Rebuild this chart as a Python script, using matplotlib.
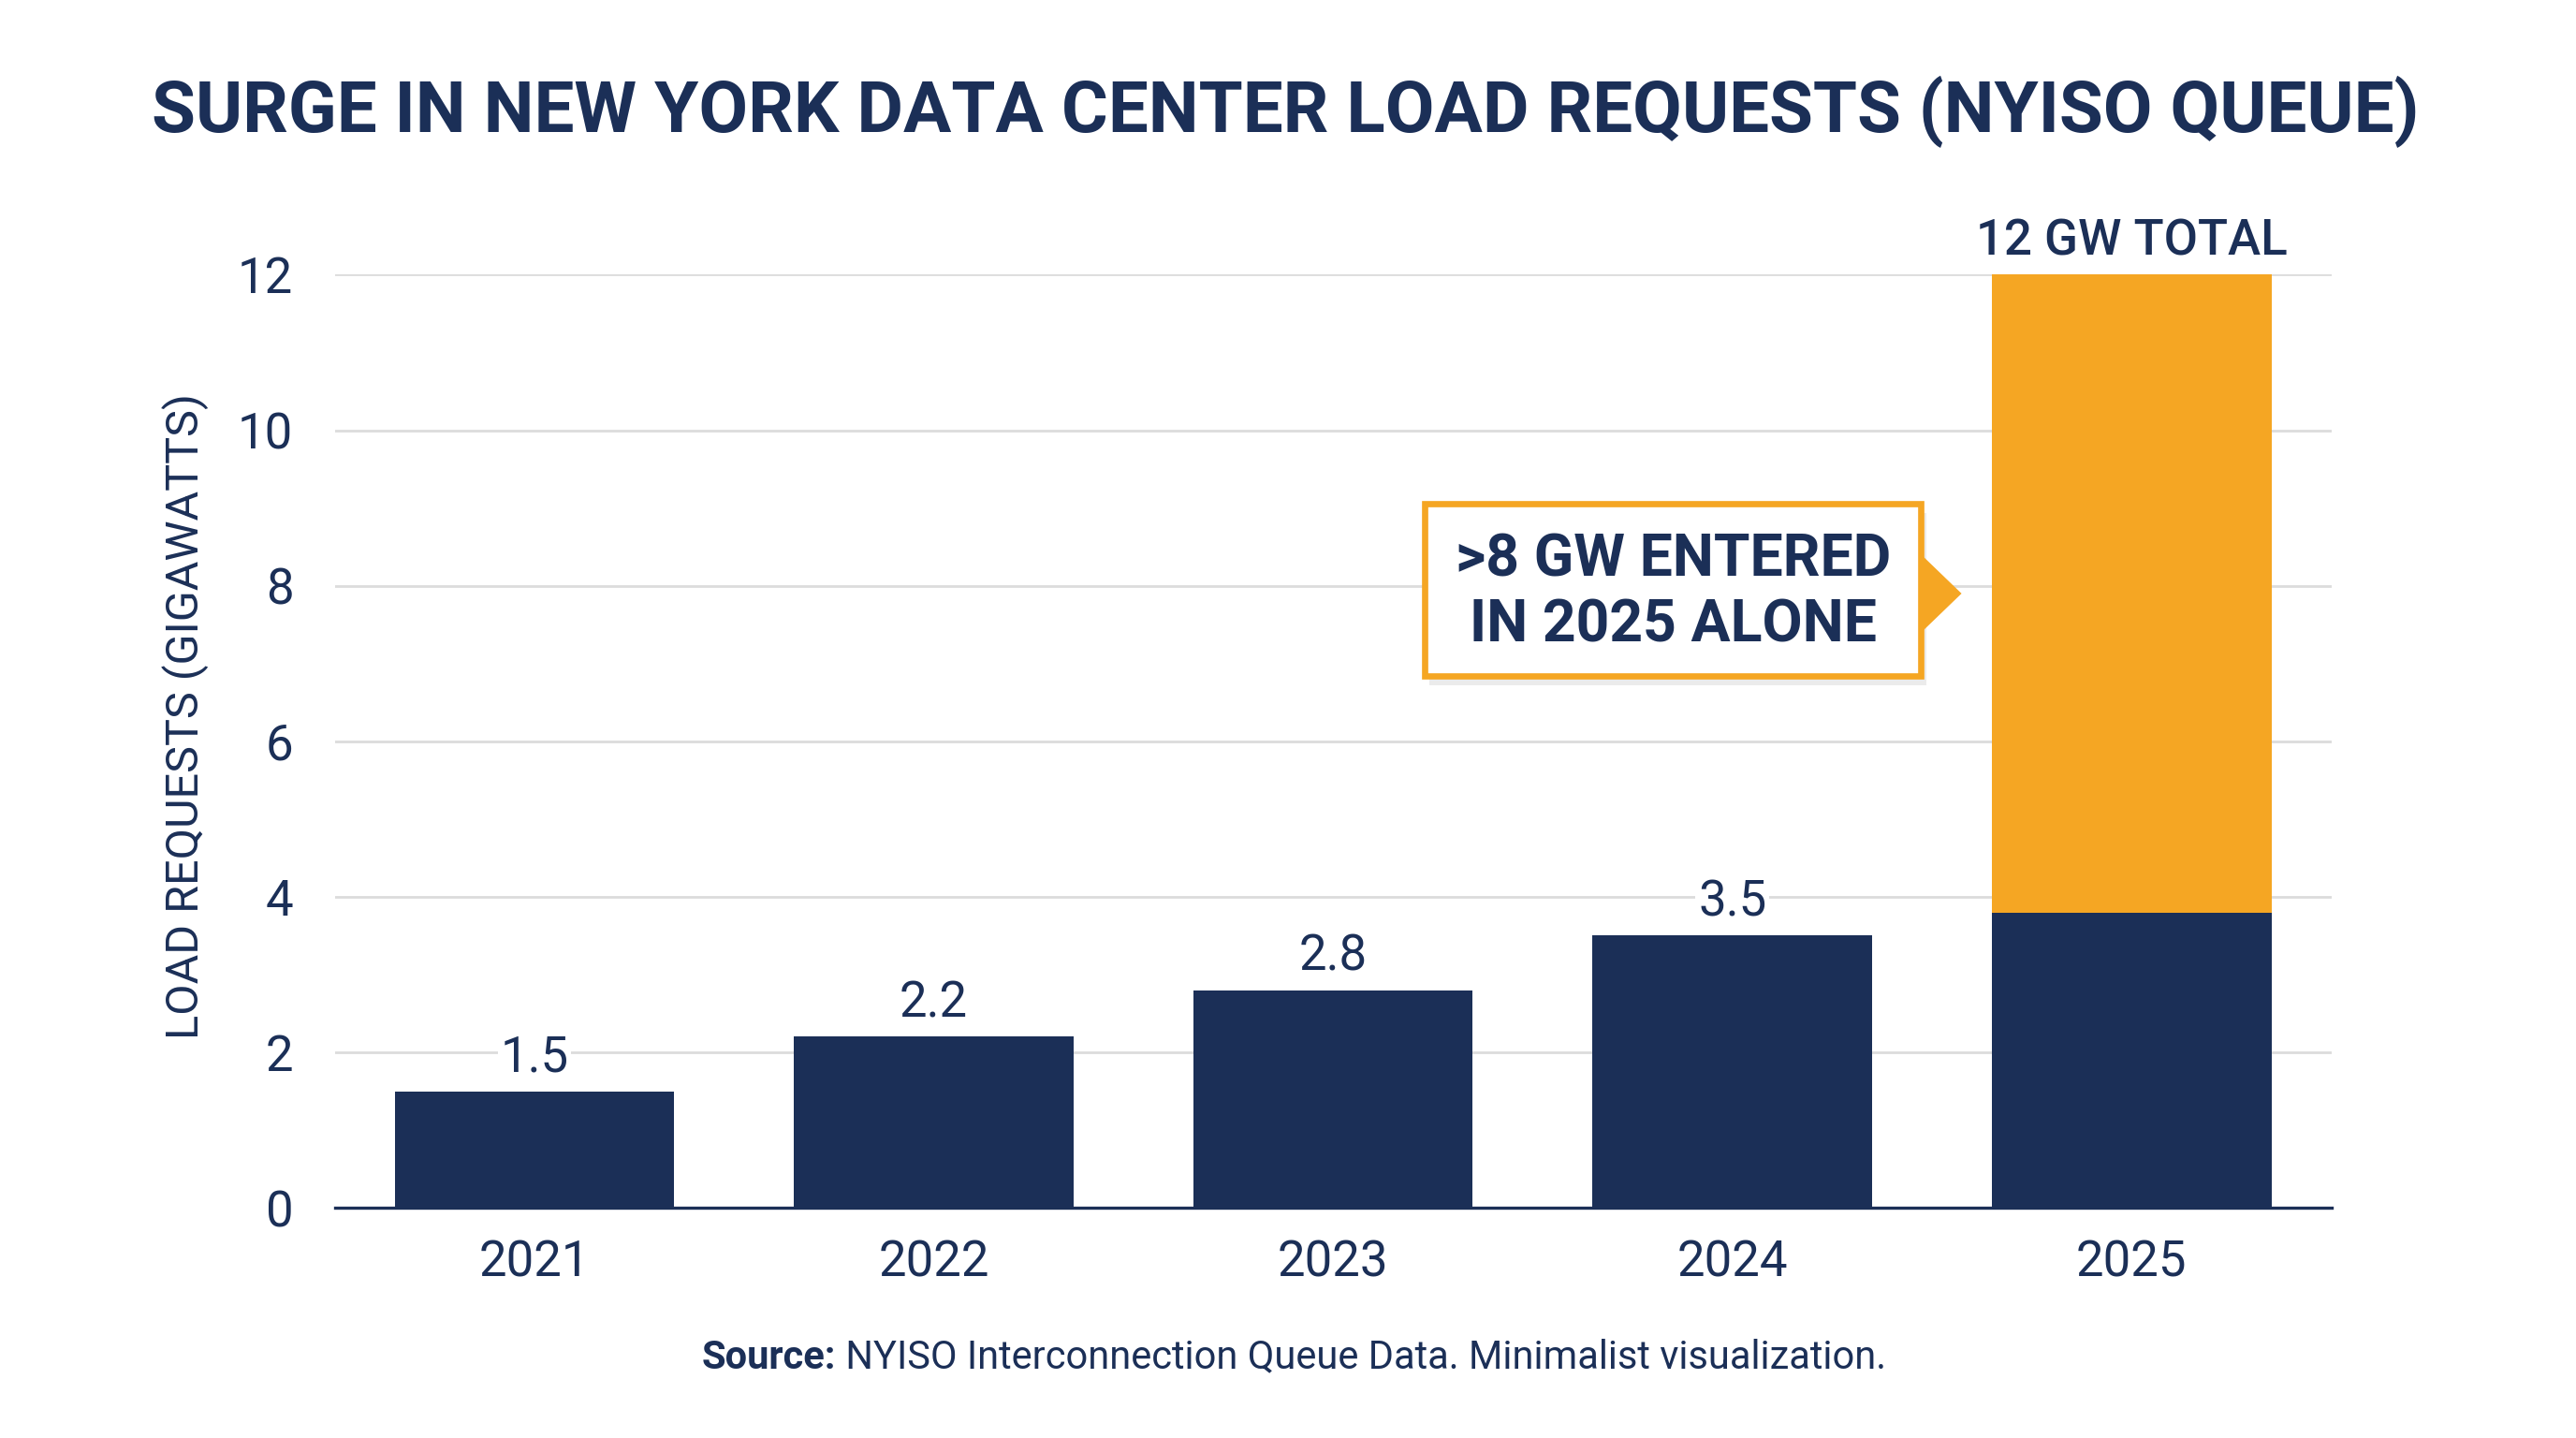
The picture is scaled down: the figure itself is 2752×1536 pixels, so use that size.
import matplotlib.pyplot as plt
from matplotlib.patches import Rectangle, Polygon

plt.rcParams['font.family'] = ['Roboto', 'DejaVu Sans']

navy = '#1b2f57'
orange = '#f5a623'
grid_col = '#dcdcdc'

# data
years = ['2021', '2022', '2023', '2024', '2025']
load_gw = [1.5, 2.2, 2.8, 3.5, 3.8]      # navy part
new_2025 = [0, 0, 0, 0, 8.2]             # orange part (entered in 2025)
total_label = '12 GW TOTAL'
callout = '>8 GW ENTERED\nIN 2025 ALONE'

fig = plt.figure(figsize=(13.76, 7.68), dpi=200)
ax = fig.add_axes([0.130, 0.160, 0.775, 0.649])

x = list(range(len(years)))
bw = 0.70
ax.bar(x, load_gw, width=bw, color=navy, zorder=3)
ax.bar(x, new_2025, width=bw, bottom=load_gw, color=orange, zorder=3)

# value labels on first four bars
for i in range(4):
    ax.text(x[i], load_gw[i] + 0.12, f'{load_gw[i]:.1f}', ha='center', va='bottom',
            fontsize=19, color=navy, zorder=4,
            bbox=dict(facecolor='white', edgecolor='none', pad=1))

total = load_gw[4] + new_2025[4]
ax.text(x[4], total + 0.12, total_label, ha='center', va='bottom',
        fontsize=19, fontweight='medium', color=navy, clip_on=False)

# callout box with pointer
bx0, bx1, by0, by1 = 2.229, 3.473, 6.84, 9.05
tip_y = (load_gw[4] + total) / 2
tip_x = x[4] - bw / 2 - 0.076
shadow = Rectangle((bx0 + 0.012, by0 - 0.12), bx1 - bx0, by1 - by0,
                   facecolor='black', alpha=0.08, edgecolor='none', zorder=4)
ax.add_patch(shadow)
ax.add_patch(Polygon([(bx1, tip_y - 0.5), (tip_x, tip_y), (bx1, tip_y + 0.5)],
                     closed=True, facecolor=orange, edgecolor='none', zorder=5))
ax.add_patch(Rectangle((bx0, by0), bx1 - bx0, by1 - by0, facecolor='white',
                       edgecolor=orange, linewidth=2.4, zorder=6))
ax.text((bx0 + bx1) / 2, (by0 + by1) / 2 - 0.04, callout, ha='center', va='center',
        fontsize=22.5, fontweight='bold', color=navy, linespacing=1.22, zorder=7)

ax.set_xlim(-0.5, 4.5)
ax.set_ylim(0, 12)
ax.set_yticks(range(0, 13, 2))
ax.set_xticks(x)
ax.set_xticklabels(years)
ax.tick_params(axis='both', length=0, labelsize=19, labelcolor=navy)
ax.tick_params(axis='y', pad=16)
ax.tick_params(axis='x', pad=12)
ax.grid(axis='y', color=grid_col, linewidth=1.0, zorder=0)
for s in ['top', 'right', 'left']:
    ax.spines[s].set_visible(False)
ax.spines['bottom'].set_color(navy)
ax.spines['bottom'].set_linewidth(1.2)
ax.spines['bottom'].set_zorder(4)

fig.text(0.072, 0.502, 'LOAD REQUESTS (GIGAWATTS)', rotation=90, ha='center', va='center',
         fontsize=17.5, color=navy)

r = fig.canvas.get_renderer()
W = fig.bbox.width

# title, sized to the reference width (~2418 px)
title = fig.text(1373 / W, 1 - 119 / 1536,
                 'SURGE IN NEW YORK DATA CENTER LOAD REQUESTS (NYISO QUEUE)',
                 ha='center', va='center', fontsize=28, fontweight='bold', color=navy)
tw = title.get_window_extent(r).width
title.set_fontsize(28 * 2418 / tw)

# source line: bold prefix + regular text
src_y = 1 - 1450 / 1536
t1 = fig.text(0.5, src_y, 'Source:', ha='left', va='center', fontsize=15,
              fontweight='bold', color=navy)
t2 = fig.text(0.5, src_y, ' NYISO Interconnection Queue Data. Minimalist visualization.',
              ha='left', va='center', fontsize=15, color=navy)
w1 = t1.get_window_extent(r).width
w2 = t2.get_window_extent(r).width
start = 1382 - (w1 + w2) / 2
t1.set_x(start / W)
t2.set_x((start + w1) / W)

fig.savefig('out.png', dpi=200, facecolor='white')
